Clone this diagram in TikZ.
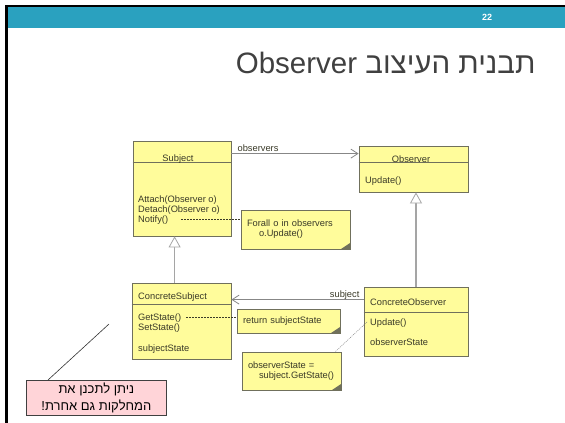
\documentclass[tikz,border=0pt]{standalone}
\usepackage{fontspec}
\setmainfont{Liberation Sans}
\newfontfamily\hebfont[Script=Hebrew]{Liberation Sans}
\TeXXeTstate=1
\usetikzlibrary{arrows.meta,calc}
\definecolor{headerteal}{RGB}{42,161,191}
\definecolor{umlyellow}{RGB}{255,252,155}
\definecolor{umlborder}{RGB}{112,112,92}
\definecolor{umlink}{RGB}{58,58,40}
\definecolor{linegray}{RGB}{135,135,135}
\definecolor{inheritgray}{RGB}{165,165,165}
\definecolor{pinkfill}{RGB}{255,212,216}
\definecolor{titlegray}{RGB}{64,64,64}

\begin{document}
\begin{tikzpicture}[
  x=1pt,y=-1pt,
  font=\fontsize{9.3}{10}\selectfont,
  classbox/.style={draw=umlborder,fill=umlyellow,line width=0.8pt,inner sep=0pt},
  umltext/.style={text=umlink,inner sep=0pt,align=left},
  note/.style={draw=umlborder,fill=umlyellow,line width=0.8pt,inner xsep=6pt,inner ysep=0pt,
    align=left,text=umlink,
    path picture={\fill[umlborder] ($(path picture bounding box.south east)+(-9,0)$)
      -- (path picture bounding box.south east) -- ++(0,-6) -- cycle;}},
  assoc/.style={draw=linegray,line width=0.8pt,-{Straight Barb[length=7pt,width=9pt]}},
  inherit/.style={draw=inheritgray,line width=1.3pt,-{Triangle[length=11pt,width=12pt,fill=white,line width=0.8pt]}},
  dashline/.style={draw=umlink,line width=0.5pt,dash pattern=on 2pt off 1pt},
  dotline/.style={draw=linegray,line width=0.5pt,dash pattern=on 1pt off 1pt},
  pinknote/.style={draw=black!75,fill=pinkfill,line width=0.8pt,minimum width=140pt,inner ysep=2.5pt,
    align=center,font=\hebfont\fontsize{13}{17}\selectfont}
]
\useasboundingbox (0,0) rectangle (565,423);
\fill[white] (0,0) rectangle (565,423);
% slide frame
\fill[black] (5,5) rectangle (565,7);
\fill[black] (5,5) rectangle (8,423);
\fill[headerteal] (8,7) rectangle (565,28);
\node[text=white,font=\bfseries\fontsize{9}{9}\selectfont] (pagenum) at (487,17) {22};
\node[anchor=base east,text=titlegray,font=\hebfont\fontsize{29.5}{30}\selectfont] (title) at (539,73)
  {\beginR תבנית העיצוב \beginL Observer\endL\endR};

% classes
\node[classbox,minimum width=98pt,minimum height=95pt] (subj) at (182,188.5) {};
\draw[umlborder,line width=0.8pt] ($(subj.north west)+(0,22)$) -- ($(subj.north east)+(0,22)$);
\node[umltext,anchor=base] (subjname) at (178,161) {Subject};
\node[umltext,anchor=base west] (subjops) at (138,222) {Attach(Observer o)\\Detach(Observer o)\\Notify()};

\node[classbox,minimum width=109pt,minimum height=46pt] (obs) at (413.5,169) {};
\draw[umlborder,line width=0.8pt] ($(obs.north west)+(0,17)$) -- ($(obs.north east)+(0,17)$);
\node[umltext,anchor=base] (obsname) at (411,162) {Observer};
\node[umltext,anchor=base west] (obsops) at (365,183) {Update()};

\node[classbox,minimum width=99pt,minimum height=76pt] (csub) at (181.5,321) {};
\draw[umlborder,line width=0.8pt] ($(csub.north west)+(0,22)$) -- ($(csub.north east)+(0,22)$);
\node[umltext,anchor=base west] (csubname) at (138,299) {ConcreteSubject};
\node[umltext,anchor=base west] (csubops) at (138,330) {GetState()\\SetState()};
\node[umltext,anchor=base west] (csubattr) at (138,351) {subjectState};

\node[classbox,minimum width=104pt,minimum height=69pt] (cobs) at (416,321.5) {};
\draw[umlborder,line width=0.8pt] ($(cobs.north west)+(0,26)$) -- ($(cobs.north east)+(0,26)$);
\node[umltext,anchor=base west] (cobsname) at (370,305) {ConcreteObserver};
\node[umltext,anchor=base west] (cobsops) at (370,325) {Update()};
\node[umltext,anchor=base west] (cobsattr) at (370,345) {observerState};

% notes
\node[note,text width=97pt,minimum height=39pt] (note1) at (295.5,229.5)
  {Forall o in observers\\\hspace*{12pt}o.Update()};
\node[note,text width=91pt,minimum height=24pt] (note2) at (288.5,321) {return subjectState};
\node[note,text width=87pt,minimum height=38pt] (note3) at (291.5,371)
  {observerState =\\\hspace*{11pt}subject.GetState()};

% relations
\draw[assoc] ($(subj.north east)+(0,13)$) -- ($(obs.north west)+(0,8)$);
\node[umltext,anchor=base west] (obslbl) at ($(subj.north east)+(6,11)$) {observers};
\draw[assoc] ($(cobs.north west)+(0,13)$) -- ($(csub.north east)+(0,17)$);
\node[umltext,anchor=base east] (subjlbl) at ($(cobs.north west)+(-4,11)$) {subject};
\draw[inherit] ($(csub.north west)+(43,0)$) -- ($(subj.south west)+(42,0)$);
\draw[inherit] (cobs.north) -- (cobs.north |- obs.south);

\coordinate (notifyend) at (181,219);
\coordinate (getend) at (186,317);
\coordinate (updstart) at (367,322);
\draw[dashline] (notifyend) -- (notifyend -| note1.west);
\draw[dashline] (getend) -- (getend -| note2.west);
\draw[dotline] (updstart) -- ($(note3.north east)+(-6,0)$);

% remark
\node[pinknote,anchor=north west] (remark) at (26,380)
  {\beginR ניתן לתכנן את\endR\\\beginR המחלקות גם אחרת!\endR};
\coordinate (remarkpt) at (109,324);
\draw[black!80,line width=0.6pt] ($(remark.north west)+(22,0)$) -- (remarkpt);
\end{tikzpicture}
\end{document}
